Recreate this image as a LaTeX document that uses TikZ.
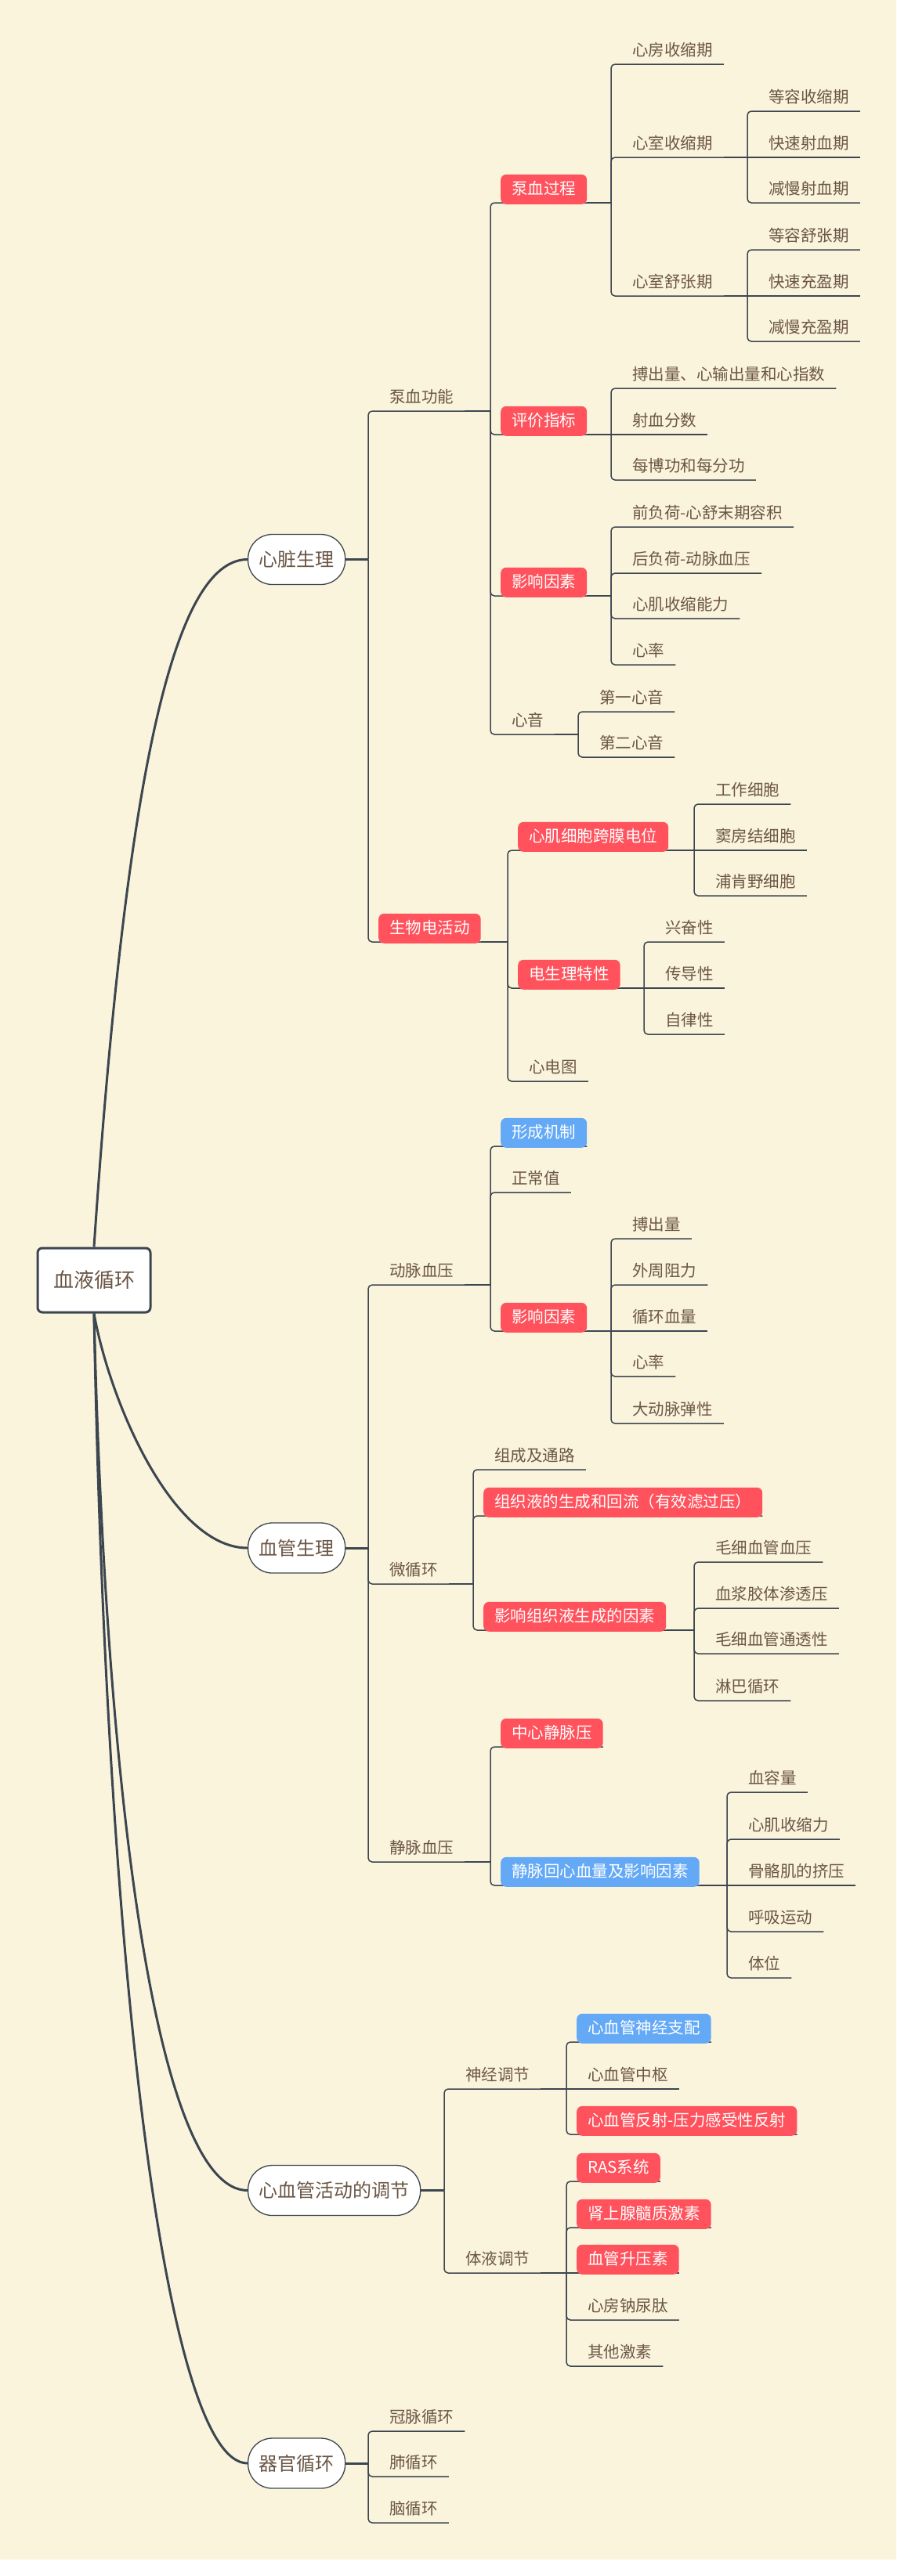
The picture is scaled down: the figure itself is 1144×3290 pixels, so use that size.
\documentclass[tikz,border=0pt]{standalone}
\usepackage{fontspec}
\setmainfont{Noto Sans CJK SC}
\usetikzlibrary{calc}
\pgfdeclarelayer{bg}
\pgfdeclarelayer{edges}
\pgfsetlayers{bg,edges,main}
\definecolor{bgc}{HTML}{FBF4DC}
\definecolor{redc}{HTML}{FF525C}
\definecolor{bluec}{HTML}{63A9F6}
\definecolor{txtc}{HTML}{6B5645}
\definecolor{linec}{HTML}{3C4650}
\tikzset{
 kidbox/.style={anchor=south west, inner xsep=14pt, inner ysep=9pt, text height=17pt, text depth=3pt,
   font=\fontsize{20.5pt}{24pt}\selectfont, text=txtc},
 leafn/.style={kidbox},
 redn/.style={kidbox, fill=redc, text=white, rounded corners=7pt},
 bluen/.style={kidbox, fill=bluec, text=white, rounded corners=7pt},
 mainn/.style={draw=linec, line width=1.3pt, fill=white, rounded corners=31pt, minimum height=64pt,
   inner xsep=14pt, anchor=west, font=\fontsize{24pt}{28pt}\selectfont, text=txtc},
 rootn/.style={draw=linec, line width=3pt, fill=white, rounded corners=6pt, minimum width=144pt,
   minimum height=82pt, font=\fontsize{26pt}{30pt}\selectfont, text=txtc},
 kidline/.style={draw=linec, line width=1.5pt, rounded corners=5pt},
 joinline/.style={draw=linec, line width=2.5pt},
 mainline/.style={draw=linec, line width=3pt},
 rootline/.style={draw=linec, line width=3pt},
}
\newcommand\mmkid[6]{\node[#1] (#2) at ({#4+13},{#5+2}) {#6};%
 \begin{pgfonlayer}{edges}\draw[kidline] (#3) |- ([yshift=2pt]#2.south east);\end{pgfonlayer}}
\newcommand\mmflat[6]{\node[#1] (#2) at ({#4+13},{#5+2}) {#6};%
 \begin{pgfonlayer}{edges}\draw[kidline] (#3) -- ([yshift=2pt]#2.south east);\end{pgfonlayer}}
\newcommand\mmjoin[2]{\begin{pgfonlayer}{edges}\draw[joinline] ([yshift=2pt]#1.south east) -- (#2);\end{pgfonlayer}}
\begin{document}
\begin{tikzpicture}[x=1pt,y=-1pt]
\begin{pgfonlayer}{bg}
\fill[white] (0,0) rectangle (1144,3290);
\fill[bgc] (0,0) rectangle (1144,3269);
\end{pgfonlayer}
\useasboundingbox (0,0) rectangle (1144,3290);

% root and main nodes
\node[rootn] (root) at (120,1635) {血液循环};
\node[mainn] (m1) at (316,714.5) {心脏生理};
\node[mainn] (m2) at (316,1977) {血管生理};
\node[mainn] (m3) at (316,2797.5) {心血管活动的调节};
\node[mainn] (m4) at (316,3146) {器官循环};

\begin{pgfonlayer}{edges}
\draw[rootline] (root.north) .. controls (160,1000) and (220,714.5) .. (m1.west);
\draw[rootline] (root.south) .. controls (140,1790) and (220,1977) .. (m2.west);
\draw[rootline] (root.south) .. controls (135,2300) and (200,2797.5) .. (m3.west);
\draw[rootline] (root.south) .. controls (135,2500) and (210,3146) .. (m4.west);
\end{pgfonlayer}

% ---------- 心脏生理
\coordinate (j1) at (470,714.5);
\begin{pgfonlayer}{edges}\draw[mainline] (m1.east) -- (j1);\end{pgfonlayer}
\mmkid{leafn}{n11}{j1}{470}{525}{泵血功能}
\mmkid{redn}{n12}{j1}{470}{1203}{生物电活动}

\coordinate (j11) at (626,525);
\mmjoin{n11}{j11}
\mmkid{redn}{n111}{j11}{626}{259}{泵血过程}
\mmkid{redn}{n112}{j11}{626}{555}{评价指标}
\mmkid{redn}{n113}{j11}{626}{761}{影响因素}
\mmkid{leafn}{n114}{j11}{626}{938}{心音}

\coordinate (j111) at (780,259);
\mmjoin{n111}{j111}
\mmkid{leafn}{n1111}{j111}{780}{82}{心房收缩期}
\mmkid{leafn}{n1112}{j111}{780}{201}{心室收缩期}
\mmkid{leafn}{n1113}{j111}{780}{378}{心室舒张期}

\coordinate (j1112) at (954,201);
\mmjoin{n1112}{j1112}
\mmkid{leafn}{a1}{j1112}{954}{142}{等容收缩期}
\mmflat{leafn}{a2}{j1112}{954}{201}{快速射血期}
\mmkid{leafn}{a3}{j1112}{954}{259}{减慢射血期}

\coordinate (j1113) at (954,378);
\mmjoin{n1113}{j1113}
\mmkid{leafn}{b1}{j1113}{954}{319}{等容舒张期}
\mmflat{leafn}{b2}{j1113}{954}{378}{快速充盈期}
\mmkid{leafn}{b3}{j1113}{954}{436}{减慢充盈期}

\coordinate (j112) at (780,555);
\mmjoin{n112}{j112}
\mmkid{leafn}{c1}{j112}{780}{496}{搏出量、心输出量和心指数}
\mmflat{leafn}{c2}{j112}{780}{555}{射血分数}
\mmkid{leafn}{c3}{j112}{780}{613}{每博功和每分功}

\coordinate (j113) at (780,761);
\mmjoin{n113}{j113}
\mmkid{leafn}{d1}{j113}{780}{673}{前负荷-心舒末期容积}
\mmkid{leafn}{d2}{j113}{780}{732}{后负荷-动脉血压}
\mmkid{leafn}{d3}{j113}{780}{790}{心肌收缩能力}
\mmkid{leafn}{d4}{j113}{780}{849}{心率}

\coordinate (j114) at (738,938);
\mmjoin{n114}{j114}
\mmkid{leafn}{e1}{j114}{738}{909}{第一心音}
\mmkid{leafn}{e2}{j114}{738}{967}{第二心音}

\coordinate (j12) at (648,1203);
\mmjoin{n12}{j12}
\mmkid{redn}{n121}{j12}{648}{1086}{心肌细胞跨膜电位}
\mmkid{redn}{n122}{j12}{648}{1262}{电生理特性}
\mmkid{leafn}{n123}{j12}{648}{1381}{心电图}

\coordinate (j121) at (886,1086);
\mmjoin{n121}{j121}
\mmkid{leafn}{f1}{j121}{886}{1027}{工作细胞}
\mmflat{leafn}{f2}{j121}{886}{1086}{窦房结细胞}
\mmkid{leafn}{f3}{j121}{886}{1144}{浦肯野细胞}

\coordinate (j122) at (822,1262);
\mmjoin{n122}{j122}
\mmkid{leafn}{g1}{j122}{822}{1203}{兴奋性}
\mmflat{leafn}{g2}{j122}{822}{1262}{传导性}
\mmkid{leafn}{g3}{j122}{822}{1321}{自律性}

% ---------- 血管生理
\coordinate (j2) at (470,1977);
\begin{pgfonlayer}{edges}\draw[mainline] (m2.east) -- (j2);\end{pgfonlayer}
\mmkid{leafn}{n21}{j2}{470}{1641}{动脉血压}
\mmkid{leafn}{n22}{j2}{470}{2023}{微循环}
\mmkid{leafn}{n23}{j2}{470}{2378}{静脉血压}

\coordinate (j21) at (626,1641);
\mmjoin{n21}{j21}
\mmkid{bluen}{n211}{j21}{626}{1464}{形成机制}
\mmkid{leafn}{n212}{j21}{626}{1523}{正常值}
\mmkid{redn}{n213}{j21}{626}{1700}{影响因素}

\coordinate (j213) at (780,1700);
\mmjoin{n213}{j213}
\mmkid{leafn}{h1}{j213}{780}{1582}{搏出量}
\mmkid{leafn}{h2}{j213}{780}{1641}{外周阻力}
\mmflat{leafn}{h3}{j213}{780}{1700}{循环血量}
\mmkid{leafn}{h4}{j213}{780}{1758}{心率}
\mmkid{leafn}{h5}{j213}{780}{1818}{大动脉弹性}

\coordinate (j22) at (604,2023);
\mmjoin{n22}{j22}
\mmkid{leafn}{n221}{j22}{604}{1877}{组成及通路}
\mmkid{redn}{n222}{j22}{604}{1936}{组织液的生成和回流（有效滤过压）}
\mmkid{redn}{n223}{j22}{604}{2082}{影响组织液生成的因素}

\coordinate (j223) at (886,2082);
\mmjoin{n223}{j223}
\mmkid{leafn}{i1}{j223}{886}{1995}{毛细血管血压}
\mmkid{leafn}{i2}{j223}{886}{2054}{血浆胶体渗透压}
\mmkid{leafn}{i3}{j223}{886}{2112}{毛细血管通透性}
\mmkid{leafn}{i4}{j223}{886}{2172}{淋巴循环}

\coordinate (j23) at (626,2378);
\mmjoin{n23}{j23}
\mmkid{redn}{n231}{j23}{626}{2231}{中心静脉压}
\mmkid{bluen}{n232}{j23}{626}{2408}{静脉回心血量及影响因素}

\coordinate (j232) at (928,2408);
\mmjoin{n232}{j232}
\mmkid{leafn}{k1}{j232}{928}{2289}{血容量}
\mmkid{leafn}{k2}{j232}{928}{2349}{心肌收缩力}
\mmflat{leafn}{k3}{j232}{928}{2408}{骨骼肌的挤压}
\mmkid{leafn}{k4}{j232}{928}{2467}{呼吸运动}
\mmkid{leafn}{k5}{j232}{928}{2526}{体位}

% ---------- 心血管活动的调节
\coordinate (j3) at (567,2797.5);
\begin{pgfonlayer}{edges}\draw[mainline] (m3.east) -- (j3);\end{pgfonlayer}
\mmkid{leafn}{n31}{j3}{567}{2668}{神经调节}
\mmkid{leafn}{n32}{j3}{567}{2903}{体液调节}

\coordinate (j31) at (723,2668);
\mmjoin{n31}{j31}
\mmkid{bluen}{p1}{j31}{723}{2608}{心血管神经支配}
\mmflat{leafn}{p2}{j31}{723}{2668}{心血管中枢}
\mmkid{redn}{p3}{j31}{723}{2726}{心血管反射-压力感受性反射}

\coordinate (j32) at (723,2903);
\mmjoin{n32}{j32}
\mmkid{redn}{q1}{j32}{723}{2786}{RAS系统}
\mmkid{redn}{q2}{j32}{723}{2845}{肾上腺髓质激素}
\mmflat{redn}{q3}{j32}{723}{2903}{血管升压素}
\mmkid{leafn}{q4}{j32}{723}{2963}{心房钠尿肽}
\mmkid{leafn}{q5}{j32}{723}{3022}{其他激素}

% ---------- 器官循环
\coordinate (j4) at (470,3146);
\begin{pgfonlayer}{edges}\draw[mainline] (m4.east) -- (j4);\end{pgfonlayer}
\mmkid{leafn}{r1}{j4}{470}{3105}{冠脉循环}
\mmkid{leafn}{r2}{j4}{470}{3163}{肺循环}
\mmkid{leafn}{r3}{j4}{470}{3222}{脑循环}
\end{tikzpicture}
\end{document}
